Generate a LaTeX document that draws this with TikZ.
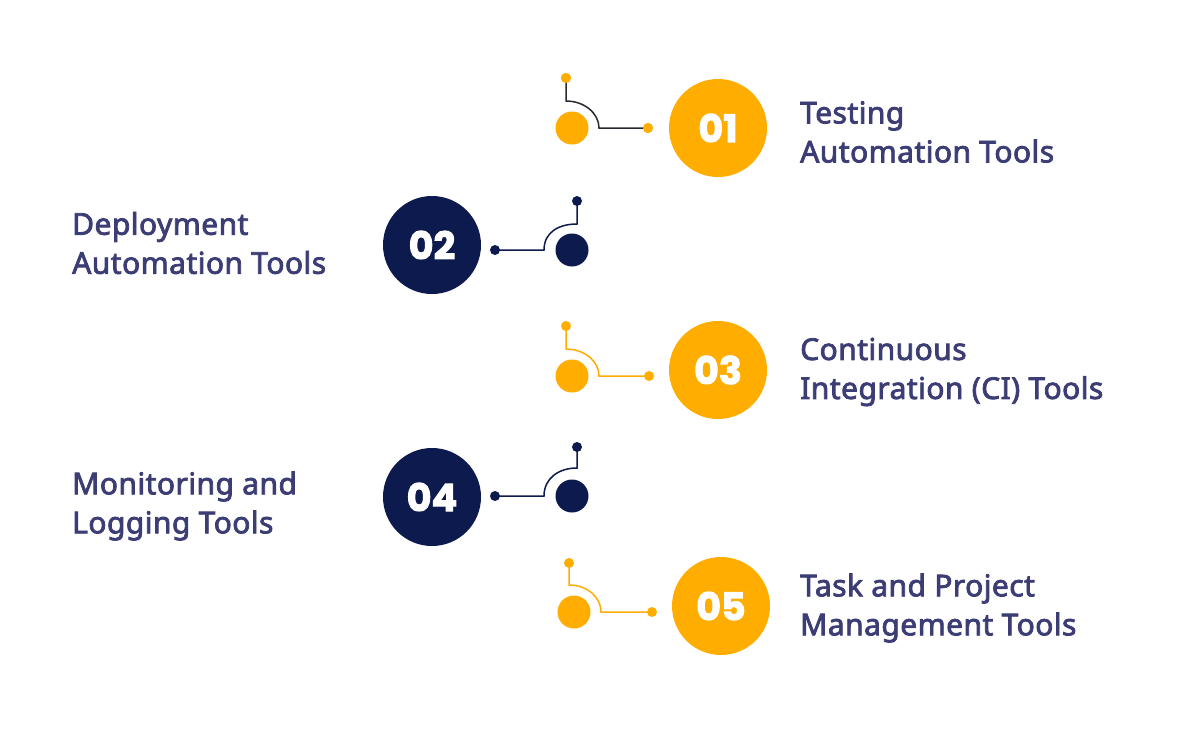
\documentclass[tikz,border=0pt]{standalone}
\usepackage{fontspec}
\setmainfont{Noto Sans}
\newfontfamily\lblfont{Noto Sans}[FakeBold=2.6,LetterSpace=1.5]
\newfontfamily\numfont{Poppins}[BoldFeatures={FakeBold=2.6}]
\definecolor{ylw}{RGB}{255,173,0}
\definecolor{navy}{RGB}{12,26,78}
\definecolor{txt}{RGB}{60,61,116}
\definecolor{ln}{RGB}{40,40,48}
\begin{document}
\begin{tikzpicture}[x=1pt,y=-1pt,
  bigc/.style={circle,minimum size=98pt,inner sep=0pt,text=white,font=\numfont\bfseries\fontsize{38}{38}\selectfont},
  smallc/.style={circle,minimum size=33pt,inner sep=0pt},
  dotc/.style={circle,minimum size=10pt,inner sep=0pt},
  lbl/.style={align=left,inner sep=0pt,text=txt,font=\lblfont\fontsize{30}{39}\selectfont},
  wire/.style={line width=1.5pt}]
\useasboundingbox (0,0) rectangle (1200,729);
% 01
\node[bigc,fill=ylw] (n1) at (718,128) {01};
\node[smallc,fill=ylw] (s1) at (572,128) {};
\node[dotc,fill=ylw] (t1) at (566,78) {};
\node[dotc,fill=ylw] (r1) at (648,128) {};
\draw[wire,ln] (t1.center) -- (566,101) .. controls (584,101) and (599,113) .. (599,128) -- (r1.center);
\node[dotc,fill=ylw] at (t1) {};
\node[dotc,fill=ylw] at (r1) {};
\node[lbl,anchor=west] (l1) at (800,132) {Testing\\Automation Tools};
% 02
\node[bigc,fill=navy] (n2) at (432,245) {02};
\node[smallc,fill=navy] (s2) at (572,250) {};
\node[dotc,fill=navy] (t2) at (577,201) {};
\node[dotc,fill=navy] (r2) at (495,250) {};
\draw[wire,navy] (r2.center) -- (544,250) .. controls (544,232) and (559,224) .. (577,224) -- (t2.center);
\node[lbl,anchor=west] (l2) at (72,243) {Deployment\\Automation Tools};
% 03
\node[bigc,fill=ylw] (n3) at (718,370) {03};
\node[smallc,fill=ylw] (s3) at (572,376) {};
\node[dotc,fill=ylw] (t3) at (566,326) {};
\node[dotc,fill=ylw] (r3) at (649,376) {};
\draw[wire,ylw] (t3.center) -- (566,349) .. controls (584,349) and (599,361) .. (599,376) -- (r3.center);
\node[lbl,anchor=west] (l3) at (800,372) {Continuous\\Integration (CI) Tools};
% 04
\node[bigc,fill=navy] (n4) at (432,497) {04};
\node[smallc,fill=navy] (s4) at (572,496) {};
\node[dotc,fill=navy] (t4) at (577,447) {};
\node[dotc,fill=navy] (r4) at (495,496) {};
\draw[wire,navy] (r4.center) -- (544,496) .. controls (544,478) and (559,468) .. (577,468) -- (t4.center);
\node[lbl,anchor=west] (l4) at (72,506) {Monitoring and\\Logging Tools};
% 05
\node[bigc,fill=ylw] (n5) at (721,606) {05};
\node[smallc,fill=ylw] (s5) at (574,612) {};
\node[dotc,fill=ylw] (t5) at (569,563) {};
\node[dotc,fill=ylw] (r5) at (652,612) {};
\draw[wire,ylw] (t5.center) -- (569,585) .. controls (587,585) and (601,597) .. (601,612) -- (r5.center);
\node[lbl,anchor=west] (l5) at (800,608) {Task and Project\\Management Tools};
\end{tikzpicture}
\end{document}
